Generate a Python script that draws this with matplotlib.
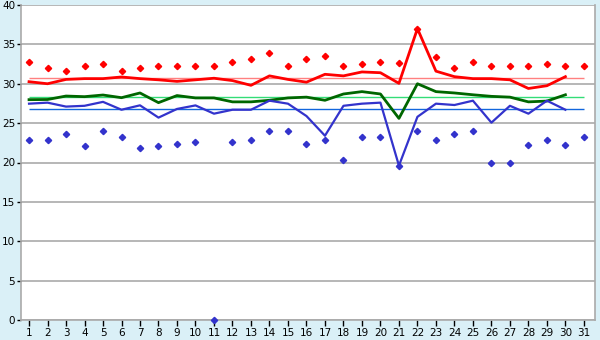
import matplotlib
matplotlib.use("Agg")
import matplotlib.pyplot as plt
import numpy as np

days = list(range(1, 32))
line_days = list(range(1, 31))

red_markers = [32.7, 32.0, 31.6, 32.2, 32.5, 31.6, 32.0, 32.2, 32.2, 32.2,
               32.2, 32.7, 33.2, 33.9, 32.3, 33.2, 33.5, 32.3, 32.5, 32.8,
               32.6, 37.0, 33.4, 32.0, 32.7, 32.3, 32.3, 32.2, 32.5, 32.2, 32.2]
blue_markers = [22.8, 22.8, 23.6, 22.05, 24.0, 23.3, 21.9, 22.05, 22.3, 22.6,
                0.0, 22.6, 22.8, 24.0, 24.0, 22.4, 22.8, 20.3, 23.2, 23.2,
                19.6, 24.0, 22.8, 23.6, 24.0, 20.0, 20.0, 22.2, 22.8, 22.2, 23.3]
red_line = [30.26, 30.0, 30.55, 30.65, 30.65, 30.86, 30.65, 30.5, 30.3, 30.5,
            30.7, 30.4, 29.8, 31.0, 30.55, 30.2, 31.2, 31.0, 31.5, 31.4,
            30.05, 37.0, 31.6, 30.9, 30.65, 30.65, 30.5, 29.4, 29.75, 30.9]
green_line = [27.98, 28.0, 28.44, 28.36, 28.57, 28.23, 28.83, 27.6, 28.5, 28.2,
              28.2, 27.7, 27.7, 27.9, 28.2, 28.3, 27.9, 28.7, 29.0, 28.7,
              25.6, 30.0, 29.0, 28.83, 28.6, 28.4, 28.3, 27.7, 27.8, 28.6]
blue_line = [27.47, 27.6, 27.1, 27.2, 27.7, 26.7, 27.26, 25.7, 26.8, 27.25,
             26.2, 26.7, 26.7, 27.85, 27.47, 25.9, 23.4, 27.2, 27.47, 27.6,
             19.6, 25.8, 27.47, 27.3, 27.85, 25.06, 27.2, 26.2, 27.85, 26.7]
red_avg = 30.75
green_avg = 28.27
blue_avg = 26.75

bg = "#daf0f7"
fig = plt.figure(figsize=(6, 3.4), dpi=100, facecolor=bg)
ax = fig.add_axes([20.7/600, 1-320/340, (595-20.7)/600, (320-5)/340])
ax.set_facecolor("white")

ax.set_ylim(0, 40)
ax.set_xlim(0.55, 31.6)
ax.set_yticks(range(0, 41, 5))
ax.set_xticks(days)
ax.yaxis.grid(True, color="#aaaaaa", linewidth=1.2)
ax.set_axisbelow(True)
for s in ax.spines.values():
    s.set_color("#aaaaaa")
    s.set_linewidth(1.2)
ax.spines["top"].set_visible(False)

ax.tick_params(axis="x", colors="black", labelsize=7.5, length=4, width=1, pad=2)
ax.tick_params(axis="y", colors="black", labelsize=7.5, length=3, width=1, pad=1)

ax.hlines(red_avg, 1, 31, color="#ff8080", linewidth=1, zorder=2)
ax.hlines(green_avg, 1, 31, color="#33dd77", linewidth=1, zorder=2)
ax.hlines(blue_avg, 1, 31, color="#1166dd", linewidth=1, zorder=2)

ax.plot(line_days, red_line, color="#ff0000", linewidth=2, zorder=3)
ax.plot(line_days, green_line, color="#006600", linewidth=2, zorder=3)
ax.plot(line_days, blue_line, color="#3333cc", linewidth=1.6, zorder=3)

ax.plot(days, red_markers, linestyle="none", marker="D", markersize=3.2,
        color="#ff0000", clip_on=False, zorder=4)
ax.plot(days, blue_markers, linestyle="none", marker="D", markersize=3.2,
        color="#3333cc", clip_on=False, zorder=4)

fig.savefig("out.png", dpi=100, facecolor=bg)
